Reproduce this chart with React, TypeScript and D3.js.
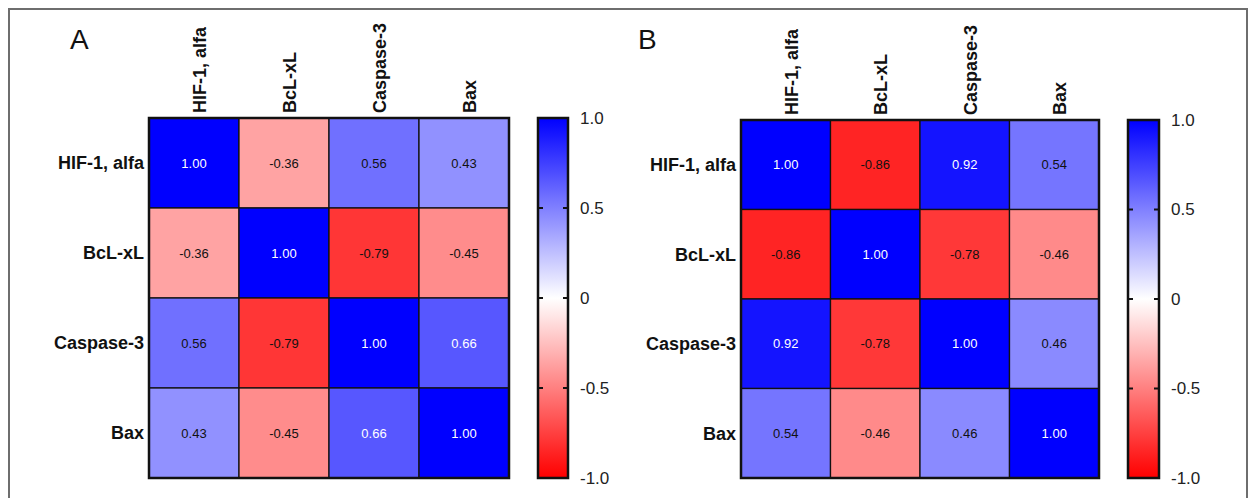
import React from 'react';
import * as d3 from 'd3';

// labels shared by both matrices
const markers = ['HIF-1, alfa', 'BcL-xL', 'Caspase-3', 'Bax'];

const matrixA = [
    [1.00, -0.36, 0.56, 0.43],
    [-0.36, 1.00, -0.79, -0.45],
    [0.56, -0.79, 1.00, 0.66],
    [0.43, -0.45, 0.66, 1.00],
];

const matrixB = [
    [1.00, -0.86, 0.92, 0.54],
    [-0.86, 1.00, -0.78, -0.46],
    [0.92, -0.78, 1.00, 0.46],
    [0.54, -0.46, 0.46, 1.00],
];

const legendTicks = [1.0, 0.5, 0, -0.5, -1.0];

const font = 'Arial, "Liberation Sans", Helvetica, sans-serif';

const color = d3.scaleLinear<string>()
    .domain([-1, 0, 1])
    .range(['#ff0000', '#ffffff', '#0000ff'])
    .interpolate(d3.interpolateRgb);

interface PanelProps {
    id: string;
    letter: string;
    data: number[][];
    left: number;
    right: number;
    top: number;
    bottom: number;
    barX: number;
    barW: number;
    letterX: number;
}

const Panel: React.FC<PanelProps> = ({ id, letter, data, left, right, top, bottom, barX, barW, letterX }) => {
    const x = d3.scaleBand<string>().domain(markers).range([left, right]);
    const y = d3.scaleBand<string>().domain(markers).range([top, bottom]);
    const legendY = d3.scaleLinear().domain([-1, 1]).range([bottom, top]);

    const stops = d3.range(0, 1.0001, 0.05);

    return (
        <g>
            <defs>
                <linearGradient id={`grad-${id}`} x1="0" y1="1" x2="0" y2="0">
                    {stops.map(t => (
                        <stop key={t} offset={t} stopColor={color(t * 2 - 1)} />
                    ))}
                </linearGradient>
            </defs>

            <text x={letterX} y={49} fontFamily={font} fontSize={28} fill="#111">{letter}</text>

            {data.map((row, i) => row.map((v, j) => (
                <g key={`${i}-${j}`}>
                    <rect
                        x={x(markers[j])}
                        y={y(markers[i])}
                        width={x.bandwidth()}
                        height={y.bandwidth()}
                        fill={color(v)}
                        stroke="#111"
                        strokeWidth={1.3}
                    />
                    <text
                        x={x(markers[j])! + x.bandwidth() / 2}
                        y={y(markers[i])! + y.bandwidth() / 2}
                        dy="0.35em"
                        textAnchor="middle"
                        fontFamily={font}
                        fontSize={13}
                        fill={v > 0.6 ? '#ffffff' : '#111'}
                    >
                        {v.toFixed(2)}
                    </text>
                </g>
            )))}
            <rect x={left} y={top} width={right - left} height={bottom - top}
                fill="none" stroke="#111" strokeWidth={2.5} />

            {markers.map(m => (
                <text
                    key={`r-${m}`}
                    x={left - 5}
                    y={y(m)! + y.bandwidth() / 2}
                    dy="0.35em"
                    textAnchor="end"
                    fontFamily={font}
                    fontSize={18}
                    fontWeight="bold"
                    fill="#111"
                >
                    {m}
                </text>
            ))}
            {markers.map(m => {
                const cx = x(m)! + x.bandwidth() / 2 + 12;
                return (
                    <text
                        key={`c-${m}`}
                        transform={`translate(${cx},${top - 5}) rotate(-90)`}
                        textAnchor="start"
                        fontFamily={font}
                        fontSize={18}
                        fontWeight="bold"
                        fill="#111"
                    >
                        {m}
                    </text>
                );
            })}

            <rect x={barX} y={top} width={barW} height={bottom - top}
                fill={`url(#grad-${id})`} stroke="#111" strokeWidth={2.5} />
            {legendTicks.map(t => (
                <g key={`t-${t}`}>
                    {t !== 1 && t !== -1 && (
                        <>
                            <line x1={barX} x2={barX + 5} y1={legendY(t)} y2={legendY(t)} stroke="#111" strokeWidth={2} />
                            <line x1={barX + barW - 5} x2={barX + barW} y1={legendY(t)} y2={legendY(t)} stroke="#111" strokeWidth={2} />
                        </>
                    )}
                    <text
                        x={barX + barW + 12}
                        y={legendY(t)}
                        dy="0.35em"
                        fontFamily={font}
                        fontSize={17}
                        fill="#222"
                    >
                        {t === 0 ? '0' : t.toFixed(1)}
                    </text>
                </g>
            ))}
        </g>
    );
};

const App: React.FC = () => {
    const width = 1249;
    const height = 498;

    return (
        <svg
            width={width}
            height={height}
            style={{ position: 'absolute', left: 0, top: 0, display: 'block', background: '#fff' }}
        >
            <rect x={0} y={0} width={width} height={height} fill="#fff" />
            <rect x={9} y={9} width={1238} height={600} fill="none" stroke="#6e6e6e" strokeWidth={2} />
            <Panel id="a" letter="A" data={matrixA}
                left={149} right={509} top={118} bottom={478}
                barX={538} barW={30} letterX={70} />
            <Panel id="b" letter="B" data={matrixB}
                left={741} right={1099} top={120} bottom={478}
                barX={1128} barW={31} letterX={638} />
        </svg>
    );
};

export default App;
